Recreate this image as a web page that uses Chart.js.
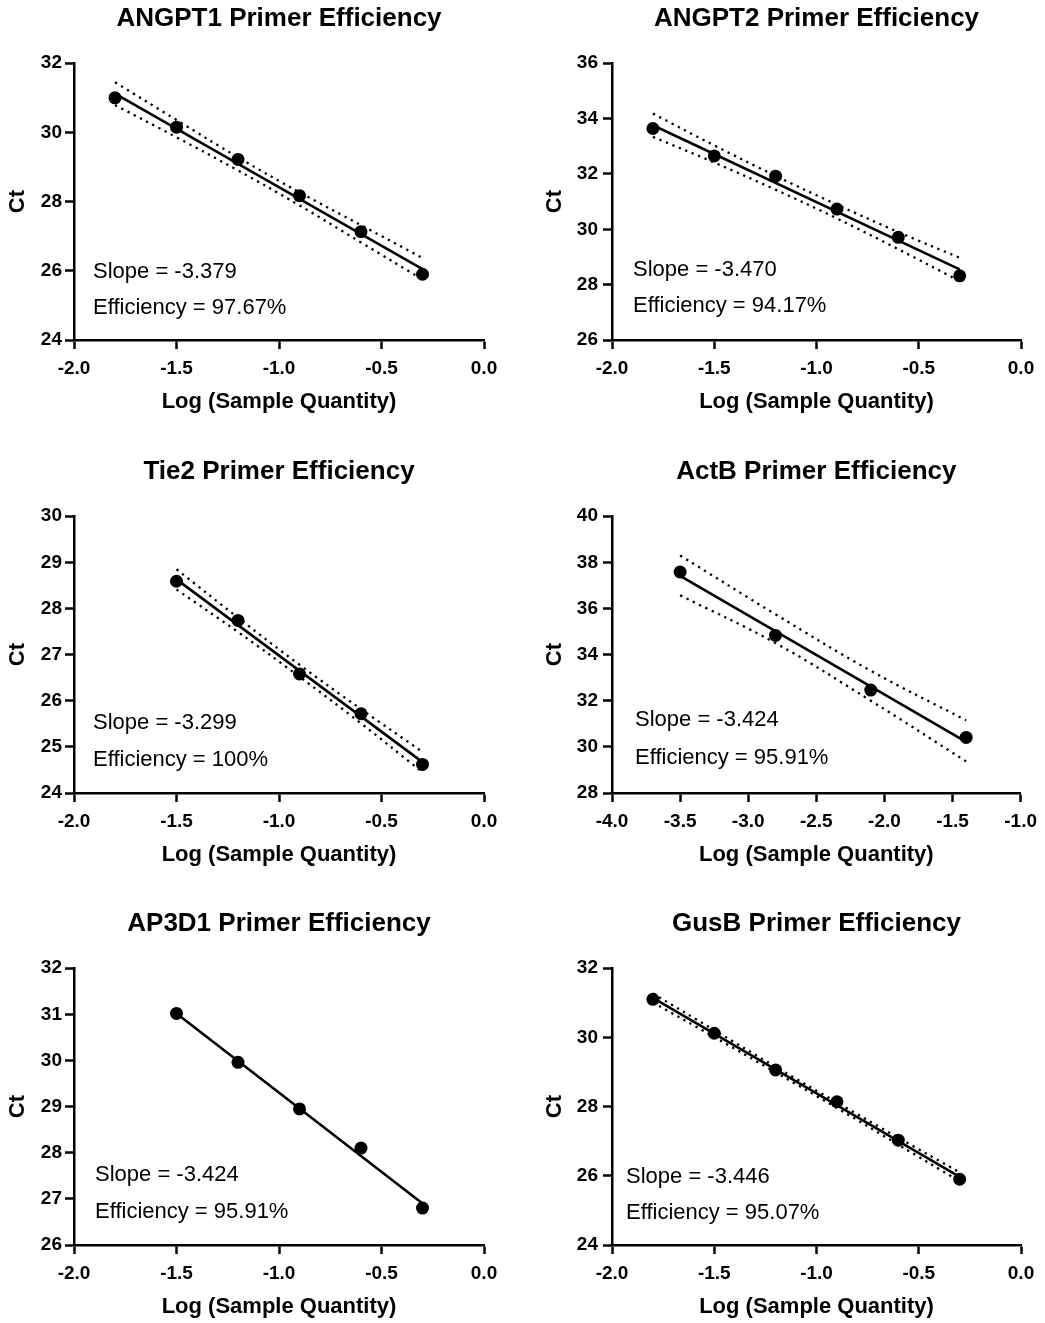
<!DOCTYPE html>
<html>
<head>
<meta charset="utf-8">
<script src="https://cdn.jsdelivr.net/npm/chart.js@4.4.1/dist/chart.umd.min.js"></script>
<style>
html,body{margin:0;padding:0;background:#fff;}
body{width:1045px;height:1323px;position:relative;overflow:hidden;}
.cell{position:absolute;}
canvas{display:block;}
</style>
</head>
<body>
<div class="cell" style="left:0;top:0;"><canvas id="c1" width="515" height="430"></canvas></div>
<div class="cell" style="left:520px;top:0;"><canvas id="c2" width="525" height="430"></canvas></div>
<div class="cell" style="left:0;top:453px;"><canvas id="c3" width="515" height="430"></canvas></div>
<div class="cell" style="left:520px;top:453px;"><canvas id="c4" width="525" height="430"></canvas></div>
<div class="cell" style="left:0;top:905px;"><canvas id="c5" width="515" height="430"></canvas></div>
<div class="cell" style="left:520px;top:905px;"><canvas id="c6" width="525" height="430"></canvas></div>
<script>
// ---------- data ----------
const logQty6 = [-1.8, -1.5, -1.2, -0.9, -0.6, -0.3];
const logQty5 = [-1.5, -1.2, -0.9, -0.6, -0.3];
const logQtyActB = [-3.5, -2.8, -2.1, -1.4];

const xTicksA = [-2.0, -1.5, -1.0, -0.5, 0.0];
const xTicksActB = [-4.0, -3.5, -3.0, -2.5, -2.0, -1.5, -1.0];

// ANGPT1
const angpt1Ct    = [31.00, 30.15, 29.22, 28.17, 27.13, 25.90];
const angpt1Fit   = [31.12, 26.05];
const angpt1Upper = [31.45, 30.36, 29.28, 28.27, 27.32, 26.37];
const angpt1Lower = [30.79, 29.86, 28.90, 27.89, 26.82, 25.75];
const angpt1YTicks = [24, 26, 28, 30, 32];

// ANGPT2
const angpt2Ct    = [33.64, 32.65, 31.92, 30.73, 29.71, 28.32];
const angpt2Fit   = [33.76, 28.55];
const angpt2Upper = [34.18, 33.03, 31.93, 30.89, 29.90, 28.97];
const angpt2Lower = [33.34, 32.41, 31.43, 30.39, 29.28, 28.13];
const angpt2YTicks = [26, 28, 30, 32, 34, 36];

// Tie2
const tie2Ct    = [28.59, 27.74, 26.58, 25.72, 24.62];
const tie2Fit   = [28.63, 24.67];
const tie2Upper = [28.85, 27.80, 26.78, 25.82, 24.89];
const tie2Lower = [28.41, 27.49, 26.52, 25.51, 24.45];
const tie2YTicks = [24, 25, 26, 27, 28, 29, 30];

// ActB
const actbCt    = [37.58, 34.83, 32.46, 30.41];
const actbFit   = [37.41, 30.22];
const actbUpper = [38.30, 35.75, 33.30, 31.15];
const actbLower = [36.57, 34.50, 32.00, 29.37];
const actbYTicks = [28, 30, 32, 34, 36, 38, 40];

// AP3D1
const ap3d1Ct  = [31.02, 29.96, 28.95, 28.10, 26.80];
const ap3d1Fit = [31.02, 26.90];
const ap3d1YTicks = [26, 27, 28, 29, 30, 31, 32];

// GusB
const gusbCt    = [31.10, 30.12, 29.06, 28.14, 27.03, 25.90];
const gusbFit   = [31.14, 25.97];
const gusbUpper = [31.27, 30.21, 29.15, 28.12, 27.10, 26.10];
const gusbLower = [31.01, 30.01, 28.99, 27.96, 26.90, 25.84];
const gusbYTicks = [24, 26, 28, 30, 32];

const titles = ['ANGPT1 Primer Efficiency', 'ANGPT2 Primer Efficiency', 'Tie2 Primer Efficiency',
                'ActB Primer Efficiency', 'AP3D1 Primer Efficiency', 'GusB Primer Efficiency'];
const slopeTexts = ['Slope = -3.379', 'Slope = -3.470', 'Slope = -3.299', 'Slope = -3.424', 'Slope = -3.424', 'Slope = -3.446'];
const effTexts = ['Efficiency = 97.67%', 'Efficiency = 94.17%', 'Efficiency = 100%', 'Efficiency = 95.91%', 'Efficiency = 95.91%', 'Efficiency = 95.07%'];
const xAxisTitle = 'Log (Sample Quantity)';
const yAxisTitle = 'Ct';

// ---------- drawing ----------
const FONT = '"Liberation Sans", Arial, sans-serif';

function makeChart(id, o) {
  const n = o.x.length;
  const datasets = [
    {
      label: 'Ct', data: o.x.map((x, i) => ({x: x, y: o.y[i]})),
      showLine: false, pointRadius: 6.5, pointHoverRadius: 6.5, pointBorderWidth: 0,
      backgroundColor: '#000', borderColor: '#000', order: 0
    },
    {
      label: 'Fit', data: [{x: o.x[0], y: o.fit[0]}, {x: o.x[n - 1], y: o.fit[1]}],
      showLine: true, borderColor: '#000', borderWidth: 2.6, pointRadius: 0, order: 1
    }
  ];
  if (o.upper) {
    [o.upper, o.lower].forEach((band, k) => {
      datasets.push({
        label: k ? 'Lower 95% CI' : 'Upper 95% CI',
        data: o.x.map((x, i) => ({x: x, y: band[i]})),
        showLine: true, borderColor: '#000', borderWidth: 2.3, borderDash: [2.3, 4.7],
        borderCapStyle: 'butt', tension: 0.4, pointRadius: 0, order: 2
      });
    });
  }
  const tickFont = {family: FONT, size: 19, weight: 'bold'};
  const axisTitleFont = {family: FONT, size: 22, weight: 'bold'};
  const grid = {display: true, drawOnChartArea: false, drawTicks: true, tickLength: 9, tickWidth: 2.5, tickColor: '#000'};
  const border = {display: true, color: '#000', width: 2.5};
  new Chart(document.getElementById(id), {
    type: 'scatter',
    data: {datasets: datasets},
    options: {
      responsive: false, animation: false, events: [],
      layout: {padding: {top: 0, left: 0, right: o.padRight, bottom: 0}},
      plugins: {
        legend: {display: false}, tooltip: {enabled: false},
        title: {display: true, text: o.title, color: '#000', fullSize: false,
                font: {family: FONT, size: 26, weight: 'bold'}, padding: {top: 3, bottom: 29}}
      },
      scales: {
        x: {
          type: 'linear', min: o.xTicks[0], max: o.xTicks[o.xTicks.length - 1],
          afterBuildTicks: s => { s.ticks = o.xTicks.map(v => ({value: v})); },
          afterFit: s => { s.height = 90; },
          ticks: {color: '#000', font: tickFont, padding: 8, maxRotation: 0, autoSkip: false,
                  callback: v => Number(v).toFixed(1)},
          grid: grid, border: border,
          title: {display: true, text: xAxisTitle, color: '#000', font: axisTitleFont, padding: {top: 0, bottom: 15}}
        },
        y: {
          type: 'linear', min: o.yTicks[0], max: o.yTicks[o.yTicks.length - 1],
          afterBuildTicks: s => { s.ticks = o.yTicks.map(v => ({value: v})); },
          afterFit: s => { s.width = o.yWidth; },
          ticks: {color: '#000', font: tickFont, padding: o.yPad, autoSkip: false,
                  callback: v => String(v)},
          grid: grid, border: border,
          title: {display: true, text: yAxisTitle, color: '#000', font: axisTitleFont, padding: {top: o.yTitlePad, bottom: 0}}
        }
      }
    },
    plugins: [{
      id: 'notes',
      afterDatasetsDraw(chart) {
        const ctx = chart.ctx, a = chart.chartArea;
        ctx.save();
        ctx.font = '22px ' + FONT;
        ctx.fillStyle = '#000';
        ctx.textAlign = 'left';
        ctx.textBaseline = 'middle';
        ctx.fillText(o.notes[0], a.left + o.noteDx, a.top + o.noteDy[0]);
        ctx.fillText(o.notes[1], a.left + o.noteDx, a.top + o.noteDy[1]);
        ctx.restore();
      }
    }]
  });
}

const leftCol = {yWidth: 74, padRight: 31, yPad: 3, yTitlePad: 4.8};
const rightCol = {yWidth: 92, padRight: 24, yPad: 5, yTitlePad: 21.8};

makeChart('c1', Object.assign({}, leftCol, {title: titles[0], x: logQty6, y: angpt1Ct, fit: angpt1Fit,
  upper: angpt1Upper, lower: angpt1Lower, xTicks: xTicksA, yTicks: angpt1YTicks,
  notes: [slopeTexts[0], effTexts[0]], noteDx: 19, noteDy: [209, 245]}));
makeChart('c2', Object.assign({}, rightCol, {title: titles[1], x: logQty6, y: angpt2Ct, fit: angpt2Fit,
  upper: angpt2Upper, lower: angpt2Lower, xTicks: xTicksA, yTicks: angpt2YTicks,
  notes: [slopeTexts[1], effTexts[1]], noteDx: 21, noteDy: [207, 243]}));
makeChart('c3', Object.assign({}, leftCol, {title: titles[2], x: logQty5, y: tie2Ct, fit: tie2Fit,
  upper: tie2Upper, lower: tie2Lower, xTicks: xTicksA, yTicks: tie2YTicks,
  notes: [slopeTexts[2], effTexts[2]], noteDx: 19, noteDy: [207, 244]}));
makeChart('c4', Object.assign({}, rightCol, {title: titles[3], x: logQtyActB, y: actbCt, fit: actbFit,
  upper: actbUpper, lower: actbLower, xTicks: xTicksActB, yTicks: actbYTicks,
  notes: [slopeTexts[3], effTexts[3]], noteDx: 23, noteDy: [204, 242]}));
makeChart('c5', Object.assign({}, leftCol, {title: titles[4], x: logQty5, y: ap3d1Ct, fit: ap3d1Fit,
  xTicks: xTicksA, yTicks: ap3d1YTicks,
  notes: [slopeTexts[4], effTexts[4]], noteDx: 21, noteDy: [207, 244]}));
makeChart('c6', Object.assign({}, rightCol, {title: titles[5], x: logQty6, y: gusbCt, fit: gusbFit,
  upper: gusbUpper, lower: gusbLower, xTicks: xTicksA, yTicks: gusbYTicks,
  notes: [slopeTexts[5], effTexts[5]], noteDx: 14, noteDy: [209, 245]}));
</script>
</body>
</html>
